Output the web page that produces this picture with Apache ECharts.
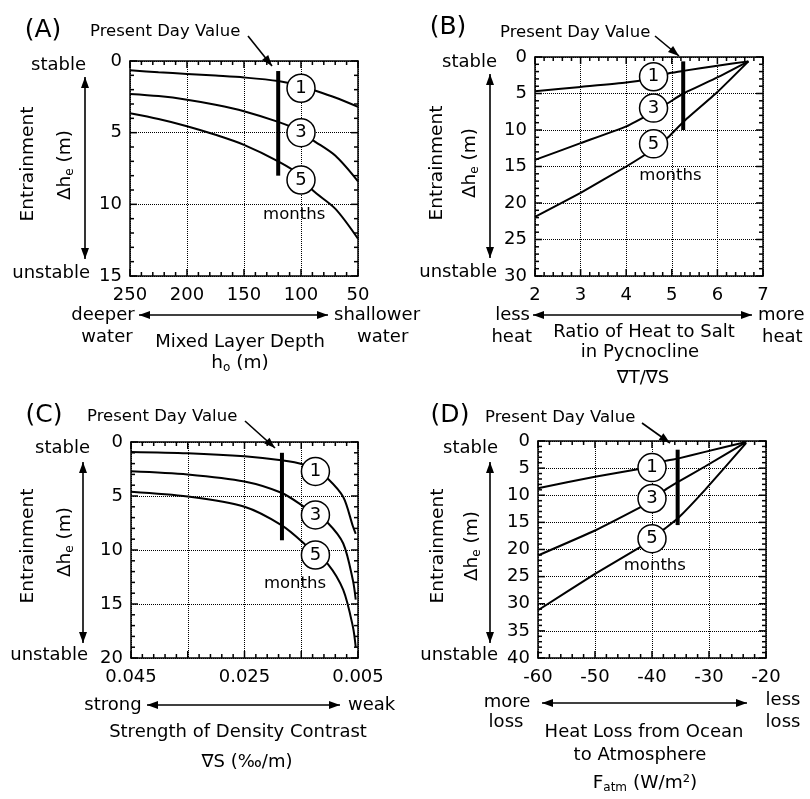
<!DOCTYPE html>
<html><head><meta charset="utf-8">
<script src="https://cdn.jsdelivr.net/npm/echarts@6/dist/echarts.min.js"></script>
<style>html,body{margin:0;padding:0;background:#fff}#c{width:810px;height:799px}</style>
</head><body><div id="c"></div>
<script>
// ---------- Panel A: Mixed layer depth ----------
const aX  = [250, 225, 200, 175, 150, 120, 100, 90, 70, 50];
const aM1 = [0.65, 0.78, 0.9, 1.02, 1.15, 1.4, 1.75, 2.0, 2.55, 3.2];
const aM3 = [2.3, 2.45, 2.7, 3.05, 3.5, 4.25, 4.9, 5.5, 6.6, 8.4];
const aM5 = [3.65, 4.05, 4.55, 5.15, 5.85, 7.0, 8.0, 9.0, 10.3, 12.4];
const aPresentX = 120, aPresentY = [0.7, 8.0];
const aCircleX = 100, aCircleY = [1.9, 5.0, 8.3];
const aMonths = [106, 10.7];

// ---------- Panel B: Ratio of heat to salt ----------
const b1X = [2, 3, 4, 4.57, 4.96, 5.25, 6, 6.68];
const b1Y = [4.7, 4.1, 3.5, 2.9, 2.2, 1.9, 1.2, 0.6];
const b3X = [2, 3, 4, 4.63, 4.92, 5.25, 6, 6.68];
const b3Y = [14.1, 11.8, 9.5, 7.4, 6.3, 5.0, 2.8, 0.6];
const b5X = [2, 3, 4, 4.6, 4.92, 5.25, 6, 6.68];
const b5Y = [21.9, 18.6, 15.0, 12.6, 11.0, 8.9, 4.8, 0.6];
const bPresentX = 5.25, bPresentY = [0.6, 10.0];
const bCircleX = 4.6, bCircleY = [2.7, 7.0, 11.9];
const bMonths = [4.97, 16.3];

// ---------- Panel C: Density contrast ----------
const cX  = [0.045, 0.035, 0.025, 0.0185, 0.0145, 0.0125, 0.0103, 0.0076, 0.0059, 0.0054];
const cM1 = [0.93, 1.05, 1.33, 1.7, 2.1, 2.6, 3.4, 5.1, 7.8, 8.5];
const cM3 = [2.7, 3.0, 3.65, 4.7, 6.0, 6.75, 7.5, 9.4, 12.8, 14.6];
const cM5 = [4.6, 5.05, 6.0, 7.7, 9.4, 10.5, 11.3, 13.7, 17.1, 19.0];
const cPresentX = 0.0184, cPresentY = [1.0, 9.1];
const cCircleX = 0.0125, cCircleY = [2.72, 6.75, 10.46];
const cMonths = [0.0161, 13.1];
const cTickLabels = ['0.045', '0.025', '0.005'];

// ---------- Panel D: Heat loss ----------
const dX  = [-60, -50, -42, -40, -37.8, -35.5, -30.7, -23.5];
const dM1 = [8.7, 6.6, 5.1, 4.9, 3.7, 3.25, 2.0, 0.2];
const dM3 = [21.1, 16.5, 12.2, 11.0, 9.1, 7.6, 4.7, 0.2];
const dM5 = [31.2, 24.5, 19.5, 18.0, 16.2, 14.3, 9.0, 0.4];
const dPresentX = -35.5, dPresentY = [1.6, 15.5];
const dCircleX = -40, dCircleY = [4.9, 10.6, 18.0];
const dMonths = [-39.5, 22.9];

const monthLabels = ['1', '3', '5'];

const F = 'DejaVu Sans';
const chart = echarts.init(document.getElementById('c'));

const grids = [
  {left: 130, top: 61, width: 228, height: 215},
  {left: 535, top: 57, width: 228, height: 219},
  {left: 131, top: 442, width: 227, height: 216},
  {left: 538, top: 441, width: 228, height: 217}
];

const xAxes = [], yAxes = [], series = [], panels = [];
function mk(gi, extra) {
  return Object.assign({
    type: 'value', gridIndex: gi,
    axisLine: {show: true, onZero: false, lineStyle: {color: '#000', width: 1.5}},
    axisTick: {show: false},
    minorTick: {show: false},
    minorSplitLine: {show: false}
  }, extra);
}
function addAxes(gi, xmin, xmax, xint, xinv, ymin, ymax, yint, xfmt) {
  const dotted = {show: true, lineStyle: {type: 'dotted', color: '#000', width: 1}};
  const xi = xAxes.length, yi = yAxes.length;
  xAxes.push(
    mk(gi, {min: xmin, max: xmax, interval: xint, inverse: xinv, position: 'bottom', splitLine: dotted,
      axisLabel: {show: true, color: '#000', fontSize: 18, fontFamily: F, margin: 10, formatter: xfmt}}),
    mk(gi, {min: xmin, max: xmax, interval: xint, inverse: xinv, position: 'top', splitLine: {show: false}, axisLabel: {show: false}})
  );
  yAxes.push(
    mk(gi, {min: ymin, max: ymax, interval: yint, inverse: true, position: 'left', splitLine: dotted,
      axisLabel: {show: true, color: '#000', fontSize: 18, fontFamily: F, margin: 8}}),
    mk(gi, {min: ymin, max: ymax, interval: yint, inverse: true, position: 'right', splitLine: {show: false}, axisLabel: {show: false}})
  );
  const ax = {x: xi, y: yi};
  panels.push({ax: ax, xmin: xmin, xmax: xmax, xint: xint, ymin: ymin, ymax: ymax, yint: yint});
  return ax;
}

const axA = addAxes(0, 50, 250, 50, true, 0, 15, 5, v => String(v));
const axB = addAxes(1, 2, 7, 1, false, 0, 30, 5, v => String(v));
const axC = addAxes(2, 0.005, 0.045, 0.01, true, 0, 20, 5,
  v => { const s = v.toFixed(3); return cTickLabels.indexOf(s) >= 0 ? s : ''; });
const axD = addAxes(3, -60, -20, 10, false, 0, 40, 5, v => String(v));

function zip(xs, ys) { return xs.map((x, i) => [x, ys[i]]); }
function addPanel(ax, curves, smooth, presentX, presentY, circleX, circleY, months) {
  curves.forEach(c => series.push({
    type: 'line', xAxisIndex: ax.x, yAxisIndex: ax.y, data: c, smooth: smooth,
    showSymbol: false, symbol: 'none', lineStyle: {color: '#000', width: 2}, z: 2, silent: true
  }));
  series.push({
    type: 'line', xAxisIndex: ax.x, yAxisIndex: ax.y,
    data: presentY.map(y => [presentX, y]), symbol: 'none',
    lineStyle: {color: '#000', width: 4, cap: 'butt'}, z: 3
  });
  series.push({
    type: 'scatter', xAxisIndex: ax.x, yAxisIndex: ax.y,
    data: circleY.map((y, i) => ({value: [circleX, y], name: monthLabels[i]})),
    symbol: 'circle', symbolSize: 28,
    itemStyle: {color: '#fff', borderColor: '#000', borderWidth: 1.5, opacity: 1},
    label: {show: true, position: 'inside', formatter: p => p.name, color: '#000', fontSize: 18, fontFamily: F},
    z: 5
  });
  series.push({
    type: 'scatter', xAxisIndex: ax.x, yAxisIndex: ax.y,
    data: [months], symbol: 'circle', symbolSize: 0,
    itemStyle: {color: '#000'},
    label: {show: true, position: 'inside', formatter: 'months', color: '#000', fontSize: 16.5, fontFamily: F, opacity: 1},
    z: 6
  });
}
addPanel(axA, [zip(aX, aM1), zip(aX, aM3), zip(aX, aM5)], 0.3, aPresentX, aPresentY, aCircleX, aCircleY, aMonths);
addPanel(axB, [zip(b1X, b1Y), zip(b3X, b3Y), zip(b5X, b5Y)], 0.15, bPresentX, bPresentY, bCircleX, bCircleY, bMonths);
addPanel(axC, [zip(cX, cM1), zip(cX, cM3), zip(cX, cM5)], 0.3, cPresentX, cPresentY, cCircleX, cCircleY, cMonths);
addPanel(axD, [zip(dX, dM1), zip(dX, dM3), zip(dX, dM5)], 0.15, dPresentX, dPresentY, dCircleX, dCircleY, dMonths);

// ---------- annotation helpers ----------
const G = [];
function txt(x, y, text, align, size) {
  G.push({
    type: 'text', x: x, y: y, z: 10,
    style: {text: text, fill: '#000', fontSize: size || 18, fontFamily: F, align: align || 'center', verticalAlign: 'middle'}
  });
}
function rtxt(x, y, text, rich) {
  G.push({type: 'text', x: x, y: y, rotation: Math.PI / 2, z: 10,
    style: {text: text, fill: '#000', fontSize: 18.5, fontFamily: F, align: 'center', verticalAlign: 'middle', rich: rich || undefined}});
}
function head(x, y, dx, dy) {
  const L = Math.hypot(dx, dy), ux = dx / L, uy = dy / L, len = 11, w = 4;
  const bx = x - ux * len, by = y - uy * len;
  G.push({type: 'polygon', z: 10, shape: {points: [[x, y], [bx - uy * w, by + ux * w], [bx + uy * w, by - ux * w]]}, style: {fill: '#000'}});
}
function arrow(x1, y1, x2, y2, both) {
  G.push({type: 'line', z: 10, shape: {x1: x1, y1: y1, x2: x2, y2: y2}, style: {stroke: '#000', lineWidth: 1.6}});
  head(x2, y2, x2 - x1, y2 - y1);
  if (both) head(x1, y1, x1 - x2, y1 - y2);
}
const subRich = {
  a: {fontSize: 18.5, fontFamily: F, fill: '#000'},
  s: {fontSize: 12, fontFamily: F, fill: '#000', padding: [9, 0, 0, 0]}
};

// Panel A
txt(43, 30, '(A)', 'center', 25);
txt(90, 32, 'Present Day Value', 'left', 16.5);
arrow(248, 36, 272, 66, false);
txt(86, 65, 'stable', 'right');
txt(90, 273, 'unstable', 'right');
arrow(85, 77, 85, 259, true);
rtxt(28, 164, 'Entrainment');
rtxt(65, 165, '{a|Δh}{s|e}{a| (m)}', subRich);
txt(103, 315, 'deeper'); txt(107, 337, 'water');
arrow(139, 315, 328, 315, true);
txt(334, 315, 'shallower', 'left'); txt(357, 337, 'water', 'left');
txt(240, 342, 'Mixed Layer Depth');
G.push({type: 'text', x: 240, y: 363, z: 10, style: {text: '{a|h}{s|o}{a| (m)}', rich: subRich, align: 'center', verticalAlign: 'middle', fontFamily: F}});

// Panel B
txt(448, 27, '(B)', 'center', 25);
txt(500, 33, 'Present Day Value', 'left', 16.5);
arrow(655, 36, 679, 56, false);
txt(497, 62, 'stable', 'right');
txt(497, 272, 'unstable', 'right');
arrow(490, 74, 490, 258, true);
rtxt(437, 163, 'Entrainment');
rtxt(470, 163, '{a|Δh}{s|e}{a| (m)}', subRich);
txt(530, 315, 'less', 'right'); txt(532, 337, 'heat', 'right');
arrow(533, 315, 752, 315, true);
txt(758, 315, 'more', 'left'); txt(762, 337, 'heat', 'left');
txt(644, 332, 'Ratio of Heat to Salt');
txt(640, 352, 'in Pycnocline');
txt(643, 378, '∇T/∇S');

// Panel C
txt(44, 415, '(C)', 'center', 25);
txt(87, 417, 'Present Day Value', 'left', 16.5);
arrow(245, 421, 275, 448, false);
txt(90, 448, 'stable', 'right');
txt(88, 655, 'unstable', 'right');
arrow(83, 462, 83, 643, true);
rtxt(28, 546, 'Entrainment');
rtxt(65, 542, '{a|Δh}{s|e}{a| (m)}', subRich);
txt(113, 705, 'strong');
arrow(147, 705, 340, 705, true);
txt(348, 705, 'weak', 'left');
txt(238, 732, 'Strength of Density Contrast');
txt(247, 762, '∇S (‰/m)');

// Panel D
txt(450, 415, '(D)', 'center', 25);
txt(485, 418, 'Present Day Value', 'left', 16.5);
arrow(642, 423, 670, 443, false);
txt(498, 448, 'stable', 'right');
txt(498, 655, 'unstable', 'right');
arrow(490, 462, 490, 643, true);
rtxt(438, 546, 'Entrainment');
rtxt(472, 546, '{a|Δh}{s|e}{a| (m)}', subRich);
txt(507, 702, 'more'); txt(506, 722, 'loss');
arrow(542, 703, 747, 703, true);
txt(783, 700, 'less'); txt(783, 722, 'loss');
txt(644, 732, 'Heat Loss from Ocean');
txt(640, 755, 'to Atmosphere');
G.push({type: 'text', x: 645, y: 783, z: 10, style: {text: '{a|F}{s|atm}{a| (W/m²)}', rich: subRich, align: 'center', verticalAlign: 'middle', fontFamily: F}});

chart.setOption({
  animation: false,
  grid: grids,
  xAxis: xAxes,
  yAxis: yAxes,
  series: series,
  graphic: G
});

// ---------- tick marks on all four sides, positioned with the chart's own scales ----------
const T = [];
panels.forEach(p => {
  const finder = {xAxisIndex: p.ax.x, yAxisIndex: p.ax.y};
  const topY = chart.convertToPixel(finder, [p.xmin, p.ymin])[1];
  const botY = chart.convertToPixel(finder, [p.xmin, p.ymax])[1];
  const xa = chart.convertToPixel(finder, [p.xmin, p.ymin])[0];
  const xb = chart.convertToPixel(finder, [p.xmax, p.ymin])[0];
  const leftX = Math.min(xa, xb), rightX = Math.max(xa, xb);
  const st = {stroke: '#000', lineWidth: 1.5};
  const nx = Math.round((p.xmax - p.xmin) / p.xint * 5);
  for (let i = 0; i <= nx; i++) {
    const v = p.xmin + i * p.xint / 5, len = i % 5 === 0 ? 7 : 4;
    const px = chart.convertToPixel(finder, [v, p.ymin])[0];
    T.push({type: 'line', z: 9, silent: true, shape: {x1: px, y1: botY, x2: px, y2: botY - len}, style: st});
    T.push({type: 'line', z: 9, silent: true, shape: {x1: px, y1: topY, x2: px, y2: topY + len}, style: st});
  }
  const ny = Math.round((p.ymax - p.ymin) / p.yint * 5);
  for (let i = 0; i <= ny; i++) {
    const v = p.ymin + i * p.yint / 5, len = i % 5 === 0 ? 7 : 4;
    const py = chart.convertToPixel(finder, [p.xmin, v])[1];
    T.push({type: 'line', z: 9, silent: true, shape: {x1: leftX, y1: py, x2: leftX + len, y2: py}, style: st});
    T.push({type: 'line', z: 9, silent: true, shape: {x1: rightX, y1: py, x2: rightX - len, y2: py}, style: st});
  }
});
chart.setOption({graphic: G.concat(T)});
</script></body></html>
